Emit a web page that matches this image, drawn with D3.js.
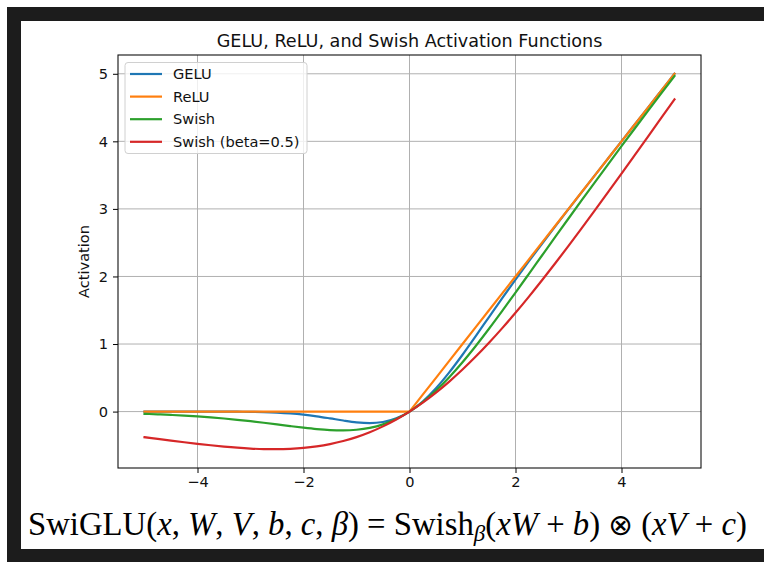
<!DOCTYPE html>
<html>
<head>
<meta charset="utf-8">
<script src="https://cdn.jsdelivr.net/npm/d3@7"></script>
<style>
  html, body { margin: 0; padding: 0; background: #ffffff; }
  svg { display: block; }
</style>
</head>
<body>
<svg id="chart" width="764" height="562"></svg>
<script>
// Sample positions along the x axis
const xValues = [-5, -4.75, -4.5, -4.25, -4, -3.75, -3.5, -3.25, -3, -2.75, -2.5, -2.25, -2, -1.75, -1.5, -1.25, -1, -0.75, -0.5, -0.25,
  0, 0.25, 0.5, 0.75, 1, 1.25, 1.5, 1.75, 2, 2.25, 2.5, 2.75, 3, 3.25, 3.5, 3.75, 4, 4.25, 4.5, 4.75, 5];

// Activation values at each sample position
const geluValues = [0, -0.00001, -0.00002, -0.00005, -0.00013, -0.00033, -0.00082, -0.00188, -0.00405, -0.0082, -0.01553, -0.0275, -0.0455, -0.0701, -0.10021, -0.13206, -0.15866, -0.16997, -0.15427, -0.10032,
  0, 0.14968, 0.34573, 0.58003, 0.84134, 1.11794, 1.39979, 1.6799, 1.9545, 2.2225, 2.48447, 2.7418, 2.99595, 3.24812, 3.49918, 3.74967, 3.99987, 4.24995, 4.49998, 4.74999, 5.0];

const reluValues = [0, 0, 0, 0, 0, 0, 0, 0, 0, 0, 0, 0, 0, 0, 0, 0, 0, 0, 0, 0,
  0, 0.25, 0.5, 0.75, 1, 1.25, 1.5, 1.75, 2, 2.25, 2.5, 2.75, 3, 3.25, 3.5, 3.75, 4, 4.25, 4.5, 4.75, 5];

const swishValues = [-0.03347, -0.04075, -0.04945, -0.05976, -0.07194, -0.08618, -0.10259, -0.12132, -0.14228, -0.16525, -0.18965, -0.21454, -0.23841, -0.25909, -0.27364, -0.27838, -0.26894, -0.24062, -0.18877, -0.10946,
  0, 0.14054, 0.31123, 0.50938, 0.73106, 0.97162, 1.22636, 1.49091, 1.76159, 2.03546, 2.31035, 2.58475, 2.85772, 3.12868, 3.39741, 3.66382, 3.92806, 4.19024, 4.45055, 4.70925, 4.96653];

const swishHalfValues = [-0.3793, -0.40423, -0.42908, -0.45343, -0.4768, -0.4986, -0.51818, -0.53469, -0.54729, -0.55498, -0.55675, -0.55143, -0.53788, -0.51489, -0.48123, -0.43581, -0.37754, -0.3055, -0.21891, -0.1172,
  0, 0.1328, 0.28109, 0.4445, 0.62246, 0.81419, 1.01877, 1.23511, 1.46212, 1.69857, 1.94325, 2.19502, 2.45271, 2.71531, 2.98182, 3.2514, 3.5232, 3.79657, 4.07092, 4.34577, 4.6207];

const seriesNames = ["GELU", "ReLU", "Swish", "Swish (beta=0.5)"];
const seriesColors = ["#1f77b4", "#ff7f0e", "#2ca02c", "#d62728"];
const seriesSmooth = [true, false, true, true];

const xTicks = [-4, -2, 0, 2, 4];
const yTicks = [0, 1, 2, 3, 4, 5];

const titleText = "GELU, ReLU, and Swish Activation Functions";
const yLabelText = "Activation";

const svg = d3.select("#chart");
const sans = "'DejaVu Sans', sans-serif";
const labelSize = 14.6;
const titleSize = 17.6;

// Dark frame with white panel
svg.append("rect").attr("x", 7).attr("y", 7).attr("width", 757).attr("height", 555).attr("fill", "#1c1c1c");
svg.append("rect").attr("x", 21).attr("y", 21).attr("width", 743).attr("height", 528).attr("fill", "#ffffff");

const plot = { left: 118, right: 701, top: 55, bottom: 468 };

const x = d3.scaleLinear().domain([-5.5, 5.5]).range([plot.left, plot.right]);
const y = d3.scaleLinear().domain([-0.835, 5.278]).range([plot.bottom, plot.top]);

const fmt = d => (d < 0 ? "\u2212" + Math.abs(d) : String(d));

// Grid
const grid = svg.append("g").attr("stroke", "#b0b0b0").attr("stroke-width", 1);
grid.selectAll("line.gx").data(xTicks).join("line")
  .attr("x1", d => x(d)).attr("x2", d => x(d))
  .attr("y1", plot.top).attr("y2", plot.bottom);
grid.selectAll("line.gy").data(yTicks).join("line")
  .attr("x1", plot.left).attr("x2", plot.right)
  .attr("y1", d => y(d)).attr("y2", d => y(d));

// Series lines
const rows = xValues.map((xv, i) => ({ x: xv, v: [geluValues[i], reluValues[i], swishValues[i], swishHalfValues[i]] }));
seriesNames.forEach((name, k) => {
  const line = d3.line()
    .x(d => x(d.x))
    .y(d => y(d.v[k]))
    .curve(seriesSmooth[k] ? d3.curveMonotoneX : d3.curveLinear);
  svg.append("path")
    .datum(rows)
    .attr("fill", "none")
    .attr("stroke", seriesColors[k])
    .attr("stroke-width", 2.2)
    .attr("stroke-linejoin", "round")
    .attr("stroke-linecap", "square")
    .attr("d", line);
});

// Axes
const xAxis = svg.append("g")
  .attr("transform", `translate(0,${plot.bottom})`)
  .call(d3.axisBottom(x).tickValues(xTicks).tickFormat(fmt).tickSize(5).tickSizeOuter(0).tickPadding(4));
const yAxis = svg.append("g")
  .attr("transform", `translate(${plot.left},0)`)
  .call(d3.axisLeft(y).tickValues(yTicks).tickFormat(fmt).tickSize(5).tickSizeOuter(0).tickPadding(5));
[xAxis, yAxis].forEach(ax => {
  ax.select(".domain").remove();
  ax.selectAll(".tick line").attr("stroke", "#000").attr("stroke-width", 1);
  ax.selectAll(".tick text").attr("fill", "#111").attr("font-family", sans).attr("font-size", labelSize);
});

// Spines
svg.append("rect")
  .attr("x", plot.left).attr("y", plot.top)
  .attr("width", plot.right - plot.left).attr("height", plot.bottom - plot.top)
  .attr("fill", "none").attr("stroke", "#111").attr("stroke-width", 1.1);

// Title and axis label
svg.append("text")
  .attr("x", (plot.left + plot.right) / 2).attr("y", 46.5)
  .attr("text-anchor", "middle")
  .attr("font-family", sans).attr("font-size", titleSize).attr("fill", "#111")
  .text(titleText);

svg.append("text")
  .attr("transform", `translate(89,${(plot.top + plot.bottom) / 2}) rotate(-90)`)
  .attr("text-anchor", "middle")
  .attr("font-family", sans).attr("font-size", labelSize).attr("fill", "#111")
  .text(yLabelText);

// Legend
const legend = svg.append("g");
legend.append("rect")
  .attr("x", 125).attr("y", 62.5).attr("width", 182).attr("height", 91)
  .attr("rx", 3).attr("fill", "#ffffff").attr("fill-opacity", 0.8)
  .attr("stroke", "#d0d0d0").attr("stroke-width", 1);
seriesNames.forEach((name, k) => {
  const cy = 74 + k * 22.6;
  legend.append("line")
    .attr("x1", 130).attr("x2", 162).attr("y1", cy).attr("y2", cy)
    .attr("stroke", seriesColors[k]).attr("stroke-width", 2.2);
  legend.append("text")
    .attr("x", 173).attr("y", cy).attr("dy", "0.36em")
    .attr("font-family", sans).attr("font-size", labelSize).attr("fill", "#111")
    .text(name);
});

// Formula line
const serif = "'Liberation Serif', 'DejaVu Serif', serif";
const formula = svg.append("text")
  .attr("x", 28).attr("y", 535)
  .attr("font-family", serif).attr("font-size", 30).attr("fill", "#000");
const parts = [
  ["SwiGLU(", false], ["x", true], [", ", false], ["W", true], [", ", false], ["V", true], [", ", false],
  ["b", true], [", ", false], ["c", true], [", ", false], ["\u03B2", true], [") = Swish", false]
];
parts.forEach(([t, it]) => formula.append("tspan").attr("font-style", it ? "italic" : "normal").text(t));
formula.append("tspan").attr("font-style", "italic").attr("font-size", "0.7em").attr("dy", "0.25em").text("\u03B2");
formula.append("tspan").attr("dy", "-0.175em").text("(");
const tail = [["xW", true], [" + ", false], ["b", true], [") ", false]];
tail.forEach(([t, it]) => formula.append("tspan").attr("font-style", it ? "italic" : "normal").text(t));
formula.append("tspan").attr("font-family", "'DejaVu Sans', sans-serif").attr("font-size", "0.9em").text("\u2297");
const tail2 = [[" (", false], ["xV", true], [" + ", false], ["c", true], [")", false]];
tail2.forEach(([t, it]) => formula.append("tspan").attr("font-style", it ? "italic" : "normal").text(t));

// Scale the formula to span the panel width
const targetWidth = 719;
const w = formula.node().getBBox().width;
formula.attr("font-size", 30 * targetWidth / w);
</script>
</body>
</html>
